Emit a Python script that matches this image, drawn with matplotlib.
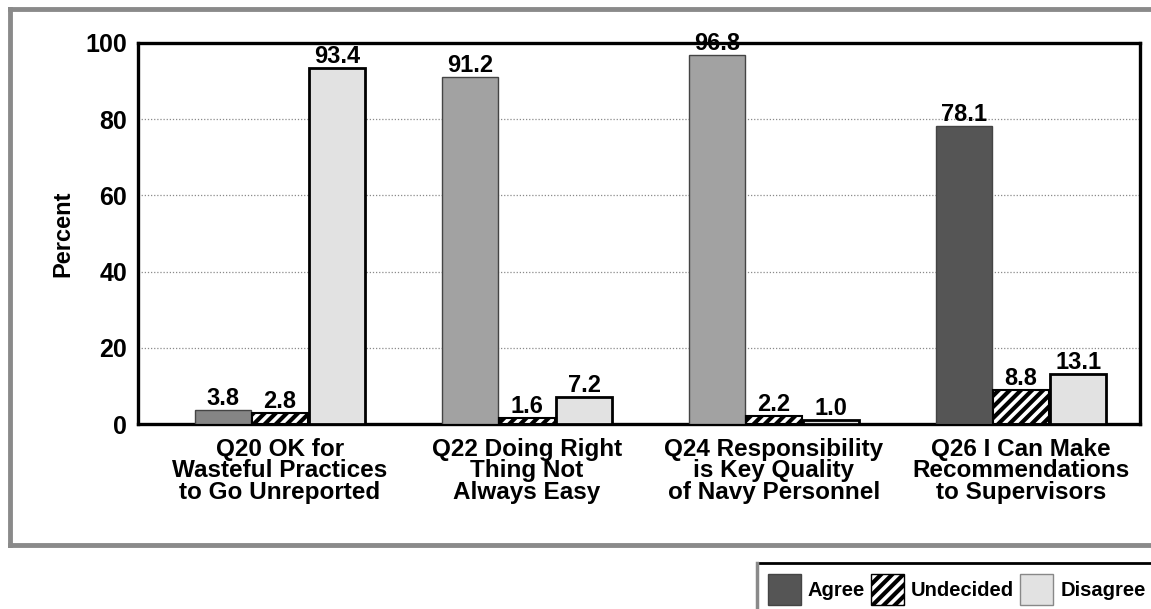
import matplotlib
matplotlib.use('Agg')
import matplotlib.pyplot as plt
from matplotlib.lines import Line2D
from matplotlib.patches import Rectangle
import numpy as np

# Datos
questions = ['Q20 OK for\nWasteful Practices\nto Go Unreported',
             'Q22 Doing Right\nThing Not\nAlways Easy',
             'Q24 Responsibility\nis Key Quality\nof Navy Personnel',
             'Q26 I Can Make\nRecommendations\nto Supervisors']
agree = [3.8, 91.2, 96.8, 78.1]
undecided = [2.8, 1.6, 2.2, 8.8]
disagree = [93.4, 7.2, 1.0, 13.1]
series_names = ['Agree', 'Undecided', 'Disagree']
yticks = [0, 20, 40, 60, 80, 100]

plt.rcParams['font.family'] = ['Liberation Sans', 'DejaVu Sans']
plt.rcParams['font.weight'] = 'bold'
plt.rcParams['hatch.linewidth'] = 3.0
plt.rcParams['hatch.color'] = 'black'

W, H = 1151, 609
fig = plt.figure(figsize=(W / 100, H / 100), dpi=100)
ax = fig.add_axes([138 / W, 1 - 424 / H, (1140 - 138) / W, (424 - 43) / H])

x = np.arange(len(questions))
bw = 0.227
off = 0.232

# los colores de "Agree" varian un poco en el original escaneado
agree_colors = ['#858585', '#a2a2a2', '#a2a2a2', '#555555']
disagree_color = '#e2e2e2'

b1 = ax.bar(x - off, agree, bw, color=agree_colors, edgecolor='#444444', linewidth=1, zorder=3)
b2 = ax.bar(x, undecided, bw, color='white', edgecolor='black', hatch='///', linewidth=1.5, zorder=3)
b3 = ax.bar(x + off, disagree, bw, color=disagree_color, edgecolor='black', linewidth=2, zorder=3)

for bars, vals in [(b1, agree), (b2, undecided), (b3, disagree)]:
    for rect, v in zip(bars, vals):
        ax.annotate('%.1f' % v, (rect.get_x() + rect.get_width() / 2, v),
                    xytext=(0, 0), textcoords='offset points',
                    ha='center', va='bottom', fontsize=17, zorder=4)

ax.set_xlim(-0.575, 3.482)
ax.set_ylim(0, 100)
ax.set_yticks(yticks)
ax.set_yticklabels([str(t) for t in yticks], fontsize=18)
ax.set_xticks(x)
ax.set_xticklabels(questions, fontsize=17.5, linespacing=0.92)
ax.tick_params(axis='both', length=0)
ax.tick_params(axis='y', pad=8)
ax.tick_params(axis='x', pad=10)

ax.yaxis.grid(True, color='#8a8a8a', linestyle=(0, (1, 1.5)), linewidth=0.9)
ax.set_axisbelow(True)
for s in ax.spines.values():
    s.set_linewidth(2.4)
    s.set_color('black')

ax.set_ylabel('Percent', fontsize=17, fontweight='bold')
ax.yaxis.set_label_coords(-0.063, 0.5)

# marco exterior del escaneo
border = dict(color='#8a8a8a', linewidth=3.5, transform=fig.transFigure)
fig.add_artist(Line2D([10 / W, 1], [1 - 9 / H, 1 - 9 / H], **border))
fig.add_artist(Line2D([10 / W, 10 / W], [1 - 9 / H, 1 - 545 / H], **border))
fig.add_artist(Line2D([10 / W, 1], [1 - 545 / H, 1 - 545 / H], **border))

# caja de la leyenda
fig.add_artist(Line2D([757 / W, 1], [1 - 563 / H, 1 - 563 / H], color='black', linewidth=2,
                      transform=fig.transFigure))
fig.add_artist(Line2D([757 / W, 757 / W], [1 - 563 / H, 0], color='#8a8a8a', linewidth=2.5,
                      transform=fig.transFigure))

# leyenda dibujada a mano para controlar el espaciado
renderer = fig.canvas.get_renderer()
styles = [dict(facecolor='#555555', edgecolor='#444444'),
          dict(facecolor='white', edgecolor='black', hatch='///'),
          dict(facecolor=disagree_color, edgecolor='#888888')]
xpos = 768
for name, st in zip(series_names, styles):
    fig.add_artist(Rectangle((xpos / W, 1 - 605 / H), 33 / W, 31 / H,
                             transform=fig.transFigure, linewidth=1, **st))
    t = fig.text((xpos + 40) / W, 1 - 590 / H, name, fontsize=14.5, fontweight='bold',
                 ha='left', va='center')
    xpos = t.get_window_extent(renderer).x1 + 6

plt.savefig('out.png', dpi=100)
plt.close()
